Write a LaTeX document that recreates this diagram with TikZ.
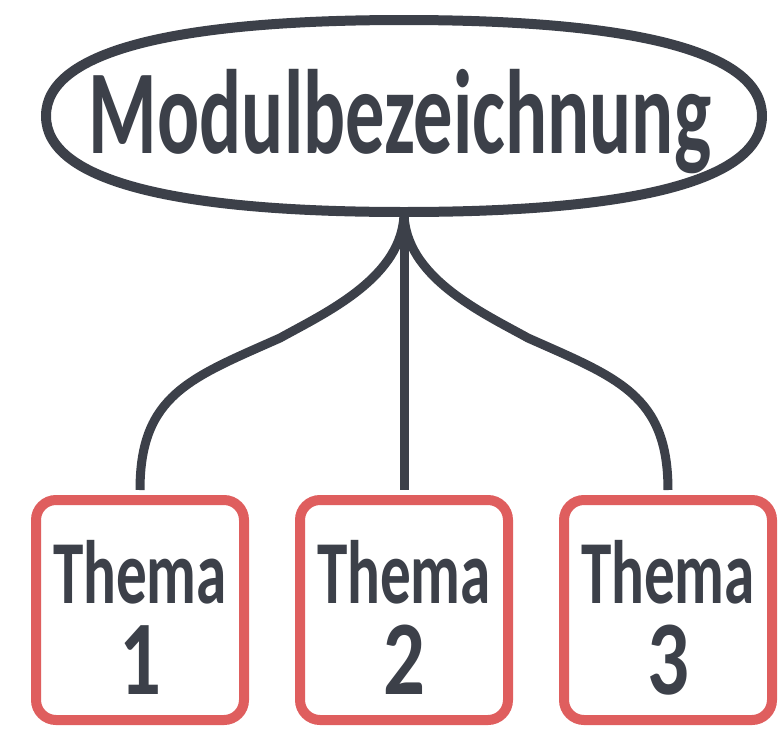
\documentclass[tikz,border=0pt]{standalone}
\usepackage{fontspec}
\setmainfont{Carlito}
\usetikzlibrary{positioning, shapes.geometric}
\definecolor{ink}{HTML}{3C4049}
\definecolor{boxred}{HTML}{DF5E5E}

\begin{document}
\begin{tikzpicture}[
  x=0.5pt, y=-0.5pt,
  module/.style={ellipse, fill=white, minimum width=358pt, minimum height=96pt, inner sep=0pt, outer sep=0pt},
  outline/.style={draw=ink, line width=5pt},
  title/.style={font=\fontsize{60}{60}\selectfont\bfseries, text=ink, inner sep=0pt},
  topic/.style={rectangle, rounded corners=10pt, draw=boxred, line width=5pt, fill=white, minimum width=104pt, minimum height=110pt, align=center, text=ink, font=\fontsize{45}{45.5}\selectfont\bfseries, inner sep=0pt},
  link/.style={draw=ink, line width=4.5pt, shorten >=2.5pt},
  node distance=23pt
]
\useasboundingbox (0,0) rectangle (784,729);

% Module and topics
\node[module] (mod) at (404,116) {};
\draw[outline] (mod.east) .. controls +(0,-63) and +(236,0) .. (mod.north)
  .. controls +(-236,0) and +(0,-63) .. (mod.west)
  .. controls +(0,63) and +(-236,0) .. (mod.south)
  .. controls +(236,0) and +(0,63) .. (mod.east) -- cycle;
\node[title, anchor=base] (modlabel) at (400,153) {\scalebox{0.654}[1]{Modulbezeichnung}};

\node[topic] (t1) at (140,610) {\rule{0pt}{39pt}\scalebox{0.68}[1]{Thema}\\\scalebox{0.78}[1]{\fontsize{53}{45.5}\selectfont 1}};
\node[topic, right=of t1] (t2) {\rule{0pt}{39pt}\scalebox{0.68}[1]{Thema}\\\scalebox{0.78}[1]{\fontsize{53}{45.5}\selectfont 2}};
\node[topic, right=of t2] (t3) {\rule{0pt}{39pt}\scalebox{0.68}[1]{Thema}\\\scalebox{0.78}[1]{\fontsize{53}{45.5}\selectfont 3}};

% Branches
\coordinate (bendL) at (280,338);
\coordinate (bendR) at (528,338);

\draw[link] (mod.south) .. controls +(0,65) and +(45,-25) .. (bendL) .. controls +(-90,40) and +(0,-100) .. (t1.north);
\draw[link] (mod.south) -- (t2.north);
\draw[link] (mod.south) .. controls +(0,65) and +(-45,-25) .. (bendR) .. controls +(90,40) and +(0,-100) .. (t3.north);

\end{tikzpicture}
\end{document}
